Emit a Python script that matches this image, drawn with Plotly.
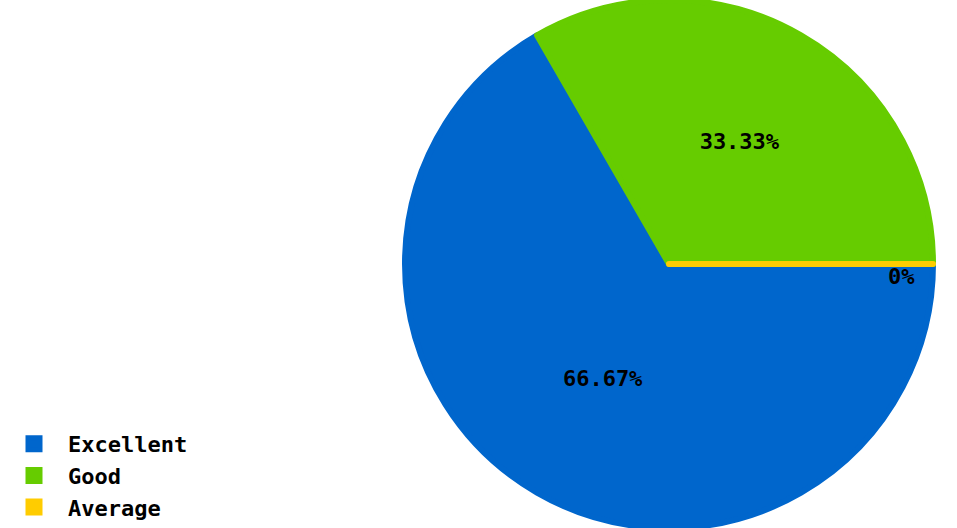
import math
import plotly.graph_objects as go

categories = ["Excellent", "Good", "Average"]
values = [2, 1, 0]
colors = ["#0066CC", "#66CC00", "#FFCC00"]

total = sum(values)
pct_text = []
for v in values:
    s = f"{100 * v / total:.2f}".rstrip("0").rstrip(".")
    pct_text.append(s + "%")

W, H = 957, 528
dom_x = [405 / W, 933 / W]
dom_y = [0.0, 1.0]
start_deg = 0.0  # 3 o'clock, going clockwise
font_family = "DejaVu Sans Mono"

fig = go.Figure(
    go.Pie(
        labels=categories,
        values=values,
        text=pct_text,
        textinfo="text",
        textposition="inside",
        insidetextorientation="horizontal",
        textfont=dict(family=font_family, size=22, color="#000000", weight="bold"),
        marker=dict(colors=colors, line=dict(color=colors, width=6)),
        sort=False,
        direction="clockwise",
        rotation=90,
        hoverinfo="label+percent",
        domain=dict(x=dom_x, y=dom_y),
    )
)

# labels for zero-valued slices (Plotly hides text of empty slices)
cx = (dom_x[0] + dom_x[1]) / 2
cy = (dom_y[0] + dom_y[1]) / 2
r_px = min((dom_x[1] - dom_x[0]) * W, (dom_y[1] - dom_y[0]) * H) / 2
cum = 0
for lab, v, t in zip(categories, values, pct_text):
    if v == 0:
        ang = math.radians(start_deg - 360 * cum / total)
        fig.add_annotation(
            x=cx + 0.94 * r_px * math.cos(ang) / W,
            y=cy + 0.94 * r_px * math.sin(ang) / H,
            xref="paper", yref="paper",
            text=t, showarrow=False, yshift=-13,
            font=dict(family=font_family, size=22, color="#000000", weight="bold"),
        )
    cum += v

fig.update_layout(
    width=W,
    height=H,
    margin=dict(l=0, r=0, t=0, b=0),
    paper_bgcolor="#FFFFFF",
    plot_bgcolor="#FFFFFF",
    showlegend=True,
    legend=dict(
        x=0.0,
        y=0.0,
        xanchor="left",
        yanchor="bottom",
        font=dict(family=font_family, size=22, color="#000000", weight="bold"),
        itemwidth=58,
        bgcolor="rgba(0,0,0,0)",
    ),
)

fig.write_html(
    "out.html",
    config={"displayModeBar": False},
    post_script="document.body.style.margin='0';",
)
